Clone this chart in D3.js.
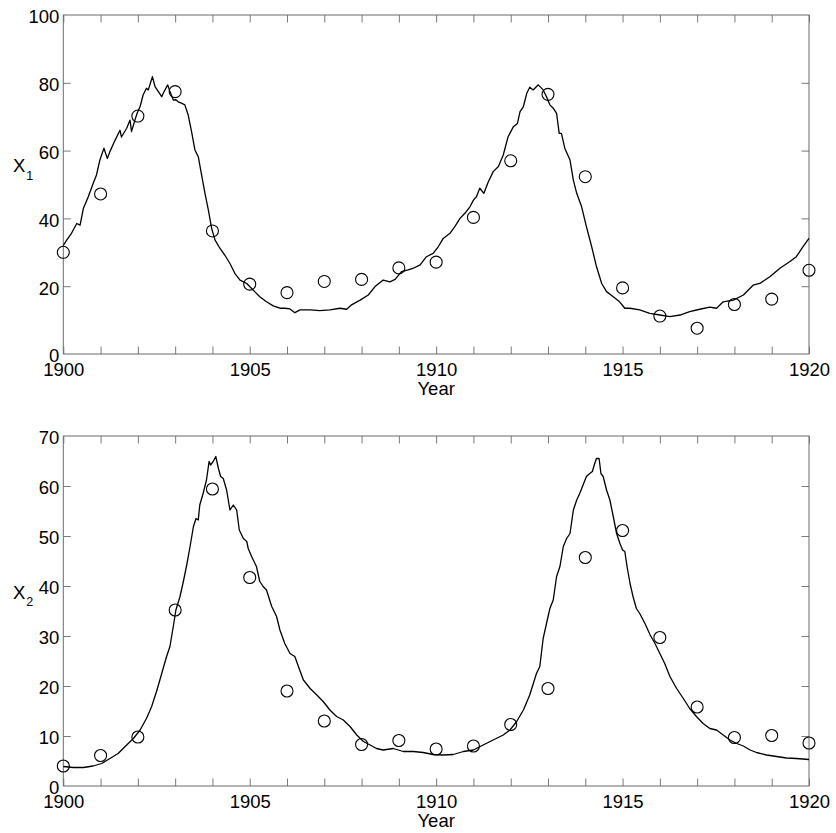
<!DOCTYPE html>
<html>
<head>
<meta charset="utf-8">
<script src="https://cdn.jsdelivr.net/npm/d3@7/dist/d3.min.js"></script>
<style>
  html, body { margin: 0; padding: 0; background: #fff; }
  svg { display: block; }
  text { font-family: "Liberation Sans", Arial, sans-serif; fill: #000; }
</style>
</head>
<body>
<svg id="chart" width="836" height="833"></svg>
<script>
// Observed yearly counts (circles)
const years = d3.range(1900, 1921);
const obsX1 = [30, 47.2, 70.2, 77.4, 36.3, 20.6, 18.1, 21.4, 22, 25.4, 27.1,
               40.3, 57, 76.6, 52.3, 19.5, 11.2, 7.6, 14.6, 16.2, 24.7];
const obsX2 = [4, 6.1, 9.8, 35.2, 59.4, 41.7, 19, 13, 8.3, 9.1, 7.4,
               8, 12.3, 19.5, 45.7, 51.1, 29.7, 15.8, 9.7, 10.1, 8.6];

// Simulated trajectory of X1: time (years) and value
const simX1t = [1900.00,1900.09,1900.22,1900.36,1900.45,1900.54,1900.67,1900.80,1900.89,1900.98,
  1901.09,1901.18,1901.25,1901.39,1901.52,1901.56,1901.70,1901.79,1901.83,1901.92,
  1901.98,1902.06,1902.14,1902.23,1902.28,1902.39,1902.46,1902.55,1902.64,1902.68,
  1902.80,1902.86,1902.95,1903.02,1903.08,1903.17,1903.26,1903.35,1903.44,1903.53,
  1903.62,1903.71,1903.80,1903.89,1903.98,1904.07,1904.20,1904.33,1904.47,1904.60,
  1904.74,1904.92,1905.09,1905.27,1905.45,1905.63,1905.81,1905.94,1906.08,1906.21,
  1906.35,1906.62,1906.88,1907.15,1907.42,1907.60,1907.73,1907.96,1908.18,1908.36,
  1908.58,1908.76,1908.90,1909.07,1909.25,1909.39,1909.57,1909.74,1909.92,1910.06,
  1910.19,1910.37,1910.50,1910.64,1910.77,1910.91,1911.00,1911.08,1911.17,1911.28,
  1911.40,1911.53,1911.67,1911.80,1911.93,1912.07,1912.18,1912.25,1912.34,1912.43,
  1912.51,1912.60,1912.74,1912.87,1912.96,1913.05,1913.14,1913.23,1913.30,1913.36,
  1913.45,1913.59,1913.68,1913.77,1913.90,1914.03,1914.17,1914.30,1914.44,1914.57,
  1914.75,1914.92,1915.06,1915.20,1915.46,1915.73,1916.00,1916.27,1916.54,1916.80,
  1917.07,1917.34,1917.52,1917.70,1917.97,1918.24,1918.50,1918.68,1918.95,1919.22,
  1919.48,1919.66,1919.84,1920.00];
const simX1v = [32,33.6,35.6,38.5,38.0,43,46.4,50.3,52.8,57.2,
  60.7,57.7,59.7,63.1,66,64,66.6,69,65.6,69,
  71,73,76.4,78.4,77.9,81.8,78.9,77.4,75.9,76.9,
  79.4,77.4,74.9,75,74.4,74,73.5,70.5,65.6,60.2,
  58.2,52.8,47.4,42.5,37,33.6,31.2,29.2,26.7,23.8,
  21.8,20.8,18.9,16.9,15.4,14.2,13.5,13.5,13.3,12.2,
  13,13,12.8,13,13.5,13.2,14.5,15.9,17.4,19.9,
  21.8,21.3,22,24.3,24.8,25.3,26.3,28.7,29.7,31.7,
  34.1,35.6,37.6,40,41.5,43.5,45.4,46.4,48.9,47.4,
  50.8,53.8,55.3,58.7,64.1,67,68,71.5,73,76.9,
  78.7,77.9,79.4,77.9,75.9,73.5,72.5,71,65.1,65.1,
  60.7,57.2,51.3,47.4,43.5,37.6,31.7,25.8,20.8,18.4,
  16.9,15.4,13.5,13.5,13,12,11.5,11,11.5,12.5,
  13.2,13.8,13.5,15.4,15.9,17.4,20.3,20.8,22.8,25.3,
  27.2,28.7,31.7,34.1];

// Simulated trajectory of X2: time (years) and value
const simX2t = [1900.00,1900.27,1900.54,1900.80,1901.03,1901.25,1901.47,1901.70,1901.88,1902.06,
  1902.23,1902.37,1902.50,1902.64,1902.77,1902.86,1902.95,1903.02,1903.13,1903.22,
  1903.31,1903.40,1903.49,1903.56,1903.62,1903.66,1903.75,1903.84,1903.91,1903.95,
  1904.02,1904.09,1904.16,1904.22,1904.29,1904.38,1904.47,1904.56,1904.65,1904.72,
  1904.83,1904.92,1904.96,1905.05,1905.18,1905.27,1905.36,1905.45,1905.59,1905.72,
  1905.81,1905.94,1906.08,1906.21,1906.34,1906.44,1906.62,1906.80,1906.97,1907.15,
  1907.33,1907.51,1907.69,1907.87,1908.05,1908.23,1908.40,1908.58,1908.85,1909.12,
  1909.39,1909.65,1909.92,1910.19,1910.46,1910.73,1911.00,1911.26,1911.53,1911.80,
  1911.98,1912.16,1912.34,1912.51,1912.69,1912.78,1912.87,1912.96,1913.05,1913.14,
  1913.23,1913.32,1913.41,1913.50,1913.59,1913.68,1913.77,1913.85,1913.94,1914.03,
  1914.12,1914.19,1914.24,1914.30,1914.37,1914.42,1914.48,1914.57,1914.66,1914.75,
  1914.84,1914.93,1915.00,1915.06,1915.12,1915.20,1915.28,1915.37,1915.46,1915.60,
  1915.74,1915.87,1916.00,1916.13,1916.27,1916.45,1916.63,1916.80,1916.98,1917.16,
  1917.34,1917.52,1917.70,1917.88,1918.06,1918.24,1918.42,1918.59,1918.86,1919.13,
  1919.40,1919.66,1920.00];
const simX2v = [3.9,3.7,3.7,4,4.5,5.5,6.5,8.2,9.5,11.2,
  13.5,15.9,18.9,22.5,25.9,27.9,31.9,35.2,37.9,40.9,
  44.2,47.9,51.9,53.5,53.2,56.2,58.5,61.2,64.9,64.2,
  64.9,65.9,63.5,61.9,61.5,59.2,55.2,56.2,55.2,51.2,
  49.5,48.9,47.5,45.9,43.9,40.9,39.9,39.2,35.9,33.9,
  31.2,28.5,26.5,25.9,23.2,21.2,19.5,18.2,16.9,15.2,
  13.9,13.2,11.9,10.2,8.9,8.2,7.5,7.2,7.5,6.9,
  6.9,6.7,6.3,6.2,6.3,6.9,7.2,8.2,9.2,10.2,
  11.2,12.9,15.2,18.2,22.5,23.9,29.5,32.5,35.5,37.2,
  41.9,43.9,47.9,49.5,50.5,55.2,57.2,58.5,60.2,61.9,
  62.5,62.9,64.2,65.5,65.5,62.5,61.9,59.2,57.2,53.9,
  50.5,48.5,47.2,46.9,43.9,40.5,37.9,35.5,34.5,32.5,
  30.2,28.5,26.5,24.5,21.9,19.5,17.5,15.5,13.9,12.5,
  11.5,11.2,10.2,9.2,8.5,8,7.2,6.7,6.2,5.9,
  5.6,5.5,5.3];

const xTickLabels = [1900, 1905, 1910, 1915, 1920];
const yTicksX1 = [0, 20, 40, 60, 80, 100];
const yTicksX2 = [0, 10, 20, 30, 40, 50, 60, 70];

const svg = d3.select("#chart");
const left = 63.3, right = 809;
const FONT = 18.5;

const x = d3.scaleLinear().domain([1900, 1920]).range([left, right]);

function panel(cfg) {
  const y = d3.scaleLinear().domain(cfg.domain).range([cfg.bottom, cfg.top]);
  const g = svg.append("g");
  const tickColor = "#7a7a7a";

  // inward ticks on all four sides
  const allYears = d3.range(1900, 1921);
  const inner = cfg.yTicks.slice(1, -1);
  const sides = [
    [d3.axisBottom(x).tickValues(allYears), `translate(0,${cfg.bottom})`],
    [d3.axisTop(x).tickValues(allYears), `translate(0,${cfg.top})`],
    [d3.axisLeft(y).tickValues(inner), `translate(${left},0)`],
    [d3.axisRight(y).tickValues(inner), `translate(${right},0)`]
  ];
  sides.forEach(([ax, tr]) => {
    const a = g.append("g").attr("transform", tr)
      .call(ax.tickSize(-7.5).tickFormat(""));
    a.select(".domain").remove();
    a.selectAll("line").attr("stroke", tickColor).attr("stroke-width", 1);
  });

  // frame
  g.append("rect")
    .attr("x", left).attr("y", cfg.top)
    .attr("width", right - left).attr("height", cfg.bottom - cfg.top)
    .attr("fill", "none").attr("stroke", "#6b6b6b").attr("stroke-width", 1);

  // tick labels
  const xl = g.append("g").attr("transform", `translate(0,${cfg.bottom})`)
    .call(d3.axisBottom(x).tickValues(xTickLabels).tickSize(0).tickPadding(9)
      .tickFormat(d3.format("d")));
  xl.select(".domain").remove();
  xl.selectAll("text").attr("font-size", FONT).attr("font-family", null);

  const yl = g.append("g").attr("transform", `translate(${left},0)`)
    .call(d3.axisLeft(y).tickValues(cfg.yTicks).tickSize(0).tickPadding(4));
  yl.select(".domain").remove();
  yl.selectAll("text").attr("font-size", FONT).attr("font-family", null).attr("dy", "0.43em");

  // axis titles
  g.append("text")
    .attr("x", x(1910)).attr("y", cfg.bottom + 41)
    .attr("text-anchor", "middle").attr("font-size", FONT)
    .text("Year");

  const yt = g.append("text")
    .attr("x", 13).attr("y", (cfg.top + cfg.bottom) / 2 - 12.5)
    .attr("font-size", FONT);
  yt.append("tspan").text("X");
  yt.append("tspan").attr("dx", 1).attr("dy", 7.5).attr("font-size", 12.5).text(cfg.sub);

  // simulated path
  const pts = cfg.t.map((t, i) => [t, cfg.v[i]]);
  g.append("path")
    .datum(pts)
    .attr("fill", "none").attr("stroke", "#000").attr("stroke-width", 1.3)
    .attr("stroke-linejoin", "round")
    .attr("d", d3.line().x(d => x(d[0])).y(d => y(d[1])));

  // observed data
  g.append("g").selectAll("circle")
    .data(years.map((yr, i) => [yr, cfg.obs[i]]))
    .join("circle")
    .attr("cx", d => x(d[0])).attr("cy", d => y(d[1]))
    .attr("r", 6)
    .attr("fill", "none").attr("stroke", "#000").attr("stroke-width", 1.1);
}

panel({ top: 15, bottom: 354, domain: [0, 100], yTicks: yTicksX1,
        t: simX1t, v: simX1v, obs: obsX1, sub: "1" });
panel({ top: 436, bottom: 786, domain: [0, 70], yTicks: yTicksX2,
        t: simX2t, v: simX2v, obs: obsX2, sub: "2" });
</script>
</body>
</html>
